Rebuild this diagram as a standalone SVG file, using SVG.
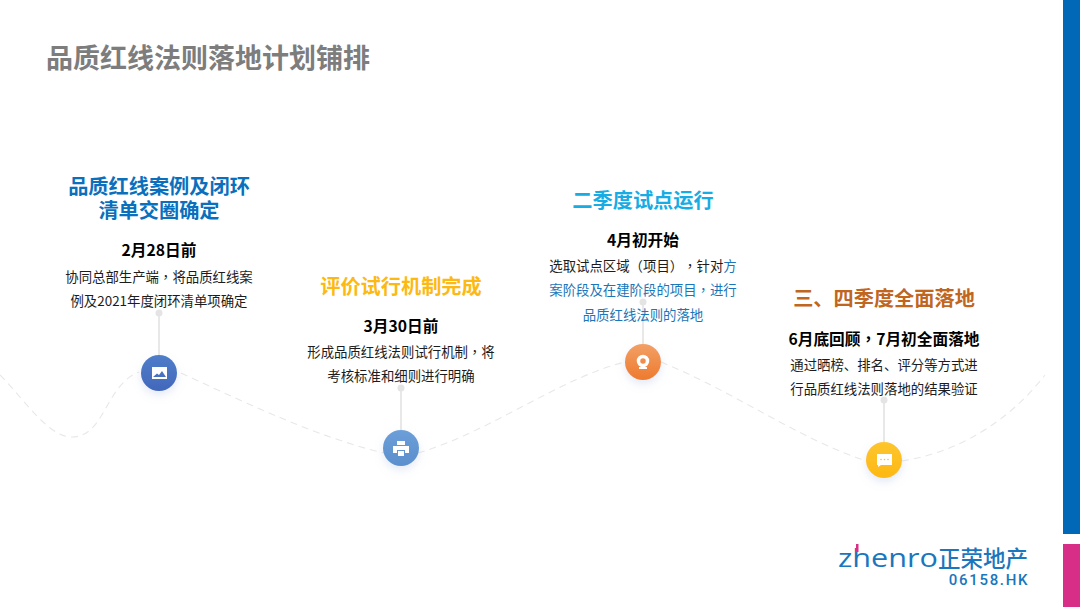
<svg xmlns="http://www.w3.org/2000/svg" width="1080" height="607" viewBox="0 0 1080 607">
<style>
text{font-family:"Noto Sans CJK SC","Liberation Sans",sans-serif;text-anchor:middle;text-spacing-trim:space-all;font-kerning:none}
.h{font-size:20.2px;font-weight:700}
.d{font-size:15.7px;font-weight:700;fill:#000}
.b{font-size:13.4px;fill:#1c1c1c}
.b.bl,.bl{fill:#1a76b8}
.p{font-family:"Noto Sans CJK TC","Noto Sans CJK SC",sans-serif}
.link{fill:none;stroke:#e0e0e0;stroke-width:1.5}
.dot{fill:#e4e4e4}
.ico{fill:#fff}
</style>
<defs>
<linearGradient id="g1" x1="0" y1="0" x2="0" y2="1"><stop offset="0" stop-color="#4f7dc9"/><stop offset="1" stop-color="#4268bb"/></linearGradient>
<linearGradient id="g2" x1="0" y1="0" x2="0" y2="1"><stop offset="0" stop-color="#6c9fd8"/><stop offset="1" stop-color="#5a8fcd"/></linearGradient>
<linearGradient id="g3" x1="0" y1="0" x2="0" y2="1"><stop offset="0" stop-color="#f2a066"/><stop offset="1" stop-color="#ee7a2e"/></linearGradient>
<linearGradient id="g4" x1="0" y1="0" x2="0" y2="1"><stop offset="0" stop-color="#fdc62e"/><stop offset="1" stop-color="#fdb813"/></linearGradient>
<filter id="s" x="-50%" y="-50%" width="200%" height="200%"><feDropShadow dx="0" dy="4" stdDeviation="4" flood-color="#9db0d8" flood-opacity=".28"/></filter>
</defs>
<rect width="1080" height="607" fill="#fff"/>
<rect x="1063" y="0" width="17" height="534" fill="#0068b7"/>
<rect x="1063" y="544" width="17" height="63" fill="#d92e87"/>
<text x="208" y="68" font-size="27" font-weight="700" fill="#7d7d7d">品质红线法则落地计划铺排</text>
<g id="connectors">
<path d="M0 375C25 400 48 437 72 437C105 437 105 385 139 372M181 373C250 405 320 438 384 453M418 453C490 432 560 378 625 362M661 362C735 392 800 440 867 461M902 461C960 452 1010 420 1045 375" fill="none" stroke="#e8e8e8" stroke-width="1.1" stroke-dasharray="7 5"/>
<path class="link" d="M159 313V355"/>
<path class="link" d="M401 388V430"/>
<path class="link" d="M643 302V344"/>
<path class="link" d="M884 400V442"/>
</g>
<g id="node1">
<text class="h" fill="#0a70bd"><tspan x="159" y="194">品质红线案例及闭环</tspan><tspan x="159" y="218">清单交圈确定</tspan></text>
<text class="d" x="159" y="256">2月28日前</text>
<text class="b" x="159" y="282">协同总部生产端<tspan class="p">，</tspan>将品质红线案</text>
<text class="b" x="159" y="306">例及2021年度闭环清单项确定</text>
<circle class="dot" cx="159" cy="313" r="3.5"/>
<circle cx="159" cy="373" r="18" fill="url(#g1)" filter="url(#s)"/>
<path class="ico" d="M152 367H167V379H152ZM153 377H166L162 371L159 375L157 373.500Z" fill-rule="evenodd"/>
</g>
<g id="node2">
<text class="h" x="401" y="294" fill="#fdb913">评价试行机制完成</text>
<text class="d" x="401" y="331.500">3月30日前</text>
<text class="b" x="401" y="357">形成品质红线法则试行机制<tspan class="p">，</tspan>将</text>
<text class="b" x="401" y="381">考核标准和细则进行明确</text>
<circle class="dot" cx="401" cy="388" r="3.5"/>
<circle cx="401" cy="448" r="18" fill="url(#g2)" filter="url(#s)"/>
<path class="ico" d="M397 441H405V445H397ZM393 446H409V453H405V450H397V453H393ZM398 451H404V456H398Z"/>
</g>
<g id="node3">
<text class="h" x="643" y="208" fill="#17ace3">二季度试点运行</text>
<text class="d" x="643" y="246">4月初开始</text>
<text class="b" x="643" y="271">选取试点区域<tspan class="p">（</tspan>项目<tspan class="p">）</tspan><tspan class="p">，</tspan>针对<tspan class="bl">方</tspan></text>
<text class="b bl" x="643" y="295">案阶段及在建阶段的项目<tspan class="p">，</tspan>进行</text>
<text class="b bl" x="643" y="320">品质红线法则的落地</text>
<circle class="dot" cx="643" cy="302" r="3.5"/>
<circle cx="643" cy="362" r="18" fill="url(#g3)" filter="url(#s)"/>
<circle cx="643" cy="361" r="4.5" fill="none" stroke="#fff" stroke-width="3.5"/>
<path class="ico" d="M639 367H647V369H639Z"/>
</g>
<g id="node4">
<text class="h" x="884" y="306" fill="#c0661f">三、四季度全面落地</text>
<text class="d" x="884" y="345">6月底回顾<tspan class="p">，</tspan>7月初全面落地</text>
<text class="b" x="884" y="370">通过晒榜、排名、评分等方式进</text>
<text class="b" x="884" y="394">行品质红线法则落地的结果验证</text>
<circle class="dot" cx="884" cy="400" r="3.5"/>
<circle cx="884" cy="460" r="18" fill="url(#g4)" filter="url(#s)"/>
<path class="ico" d="M877 454H892V465H881L878 467V465H877Z"/>
<circle cx="881" cy="459.500" r=".8" fill="#fdc02a"/><circle cx="884.500" cy="459.500" r=".8" fill="#fdc02a"/><circle cx="888" cy="459.500" r=".8" fill="#fdc02a"/>
</g>
<g id="logo">
<text x="888" y="567" font-size="26" textLength="100" lengthAdjust="spacingAndGlyphs" fill="#1a76bd" style="font-family:'Open Sans','Liberation Sans',sans-serif">zhenro</text>
<rect x="856" y="544" width="2.500" height="8" fill="#d92e87"/>
<text x="983" y="567" font-size="22.500" fill="#1a76bd" font-weight="500">正荣地产</text>
<text x="989" y="585" font-size="15" letter-spacing="1.700" fill="#1a76bd" style="font-family:Roboto,'Liberation Sans',sans-serif;font-weight:500">06158.HK</text>
</g>
</svg>
